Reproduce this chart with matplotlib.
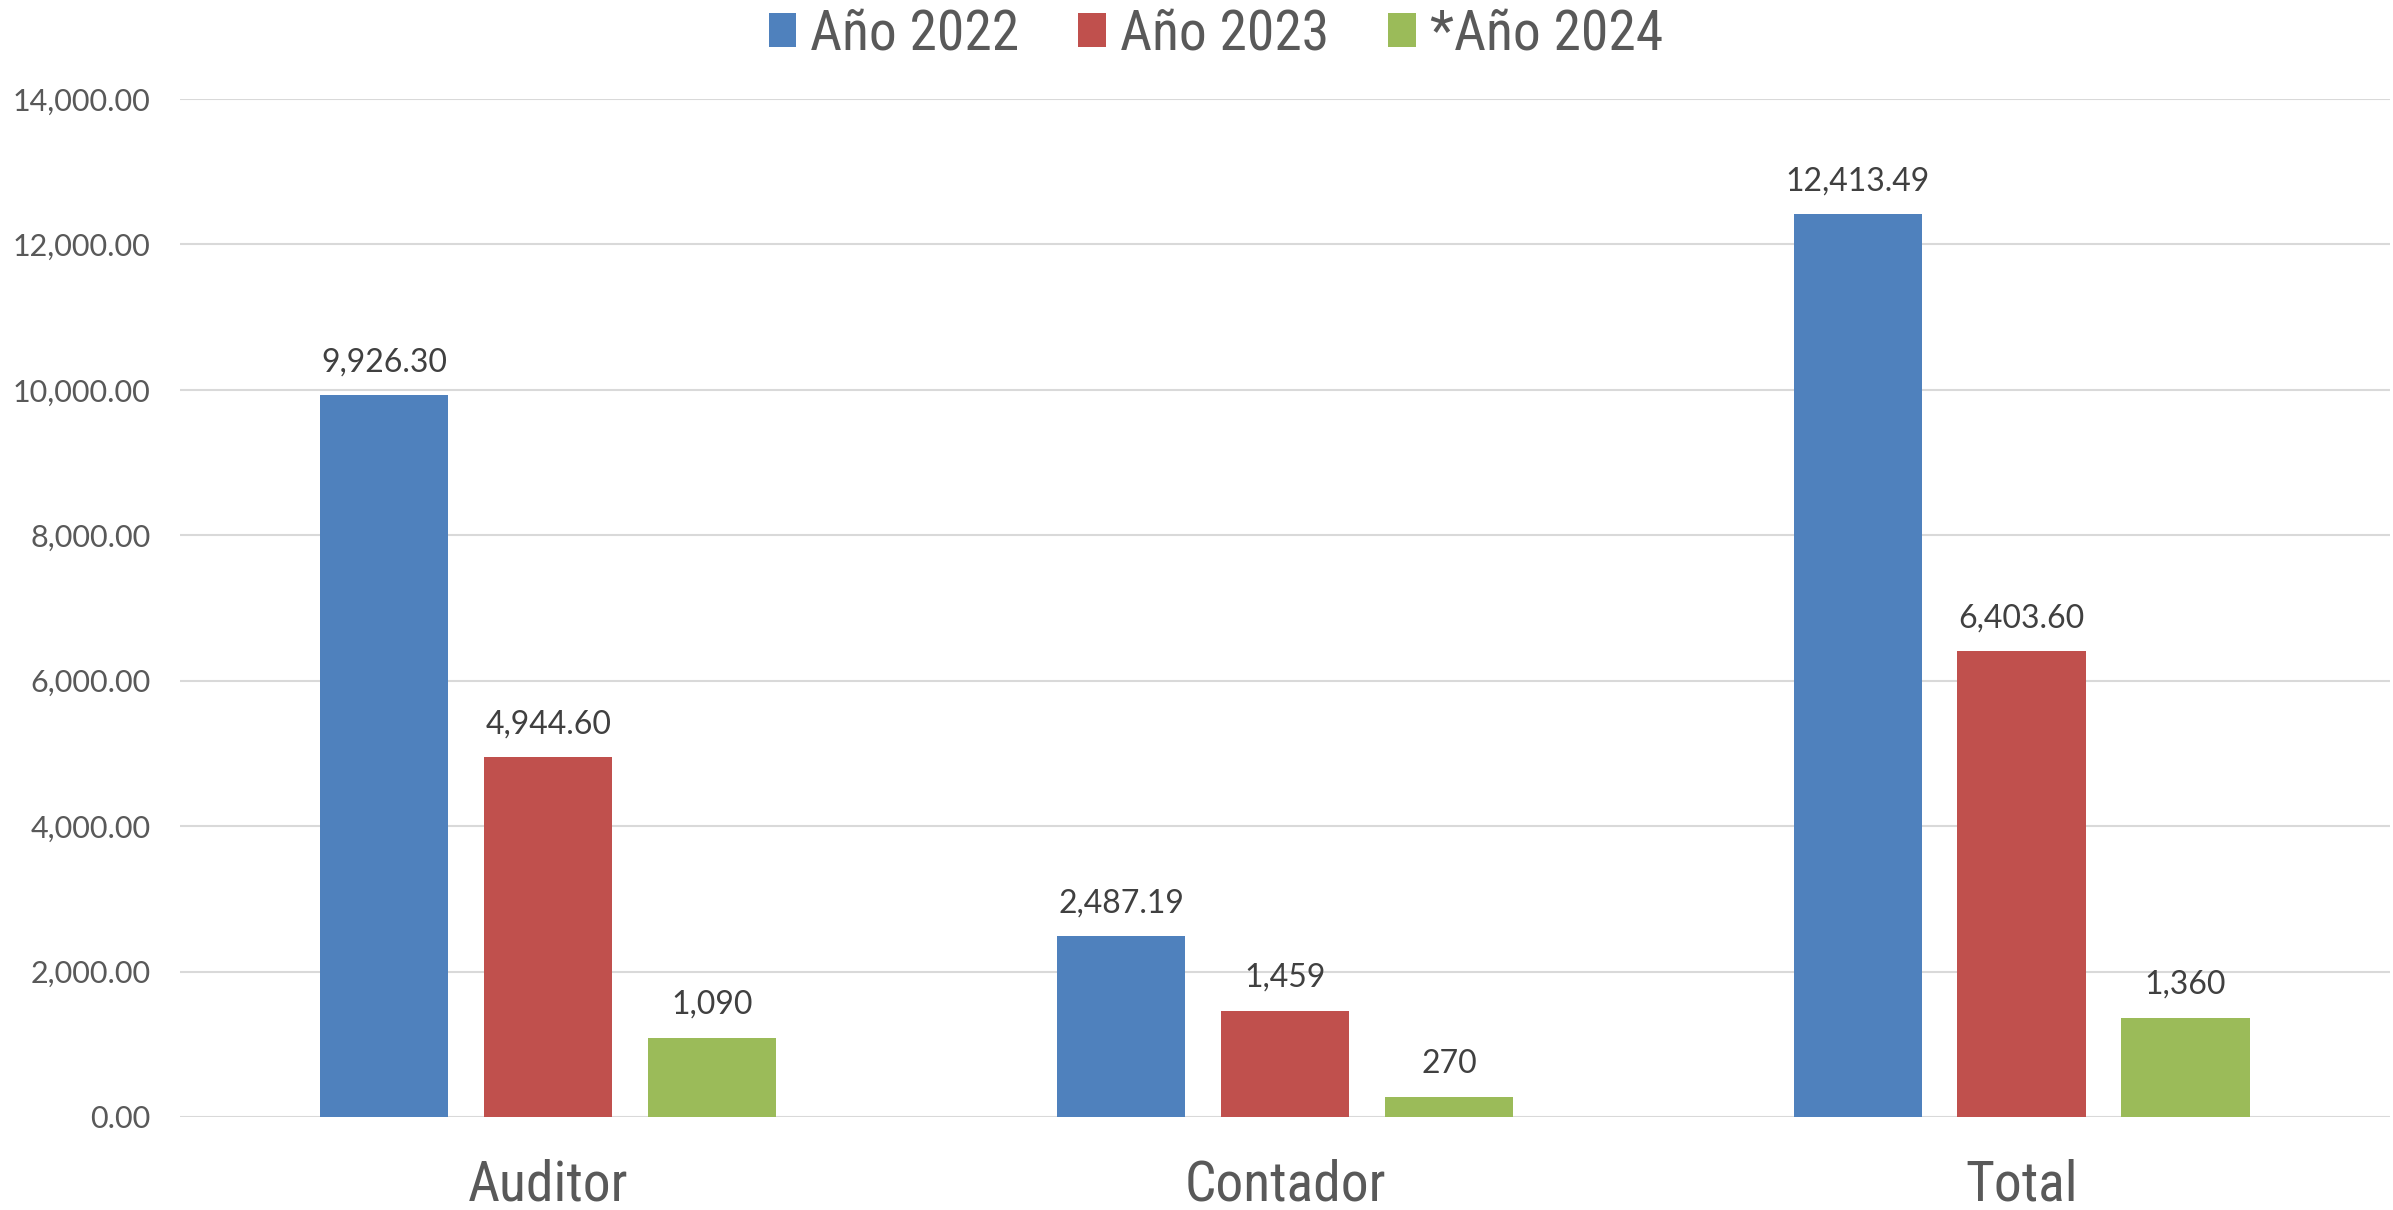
import matplotlib
matplotlib.use("Agg")
import matplotlib.pyplot as plt
import numpy as np

categories = ["Auditor", "Contador", "Total"]
series_names = ["Año 2022", "Año 2023", "*Año 2024"]
values_2022 = [9926.30, 2487.19, 12413.49]
values_2023 = [4944.60, 1459, 6403.60]
values_2024 = [1090, 270, 1360]
labels_2022 = ["9,926.30", "2,487.19", "12,413.49"]
labels_2023 = ["4,944.60", "1,459", "6,403.60"]
labels_2024 = ["1,090", "270", "1,360"]
yticks = [0, 2000, 4000, 6000, 8000, 10000, 12000, 14000]
ytick_labels = ["0.00", "2,000.00", "4,000.00", "6,000.00", "8,000.00",
                "10,000.00", "12,000.00", "14,000.00"]

colors = ["#4F81BD", "#C0504D", "#9BBB59"]
narrow = ["Roboto Condensed", "Open Sans Condensed", "Noto Sans Condensed",
          "Liberation Sans Narrow", "Open Sans", "DejaVu Sans"]
num_font = ["Lato", "DejaVu Sans"]

fig = plt.figure(figsize=(23.93, 12.10), dpi=100)
ax = fig.add_axes([0.0752, 0.0769, 0.9235, 0.8413])

x = np.arange(len(categories))
bw = 0.174
step = 0.2226
all_vals = [values_2022, values_2023, values_2024]
all_labels = [labels_2022, labels_2023, labels_2024]
handles = []
for i, (vals, labs) in enumerate(zip(all_vals, all_labels)):
    pos = x + (i - 1) * step
    b = ax.bar(pos, vals, width=bw, color=colors[i], zorder=3, label=series_names[i])
    handles.append(b)
    for p, v, l in zip(pos, vals, labs):
        ax.annotate(l, (p, v), xytext=(0, 13), textcoords="offset points",
                    ha="center", va="bottom", fontsize=23, color="#404040",
                    family=num_font)

ax.set_xlim(-0.5, 2.5)
ax.set_ylim(0, 14000)
ax.set_yticks(yticks)
ax.set_yticklabels(ytick_labels, family=num_font, fontsize=22, color="#595959")
ax.set_xticks(x)
ax.set_xticklabels(categories, family=narrow, fontsize=40, color="#595959")
ax.tick_params(axis="y", length=0, pad=21)
ax.tick_params(axis="x", length=0, pad=30)
ax.grid(axis="y", color="#D9D9D9", linewidth=1.5, zorder=0)
for s in ax.spines.values():
    s.set_visible(False)

leg = fig.legend(handles=handles, labels=series_names, loc="upper center",
                 bbox_to_anchor=(0.508, 1.035), ncol=3, frameon=False,
                 prop={"family": narrow, "size": 40}, labelcolor="#595959",
                 handlelength=0.5, handleheight=0.56, handletextpad=0.25,
                 columnspacing=1.06)

fig.savefig("out.png", dpi=100)
